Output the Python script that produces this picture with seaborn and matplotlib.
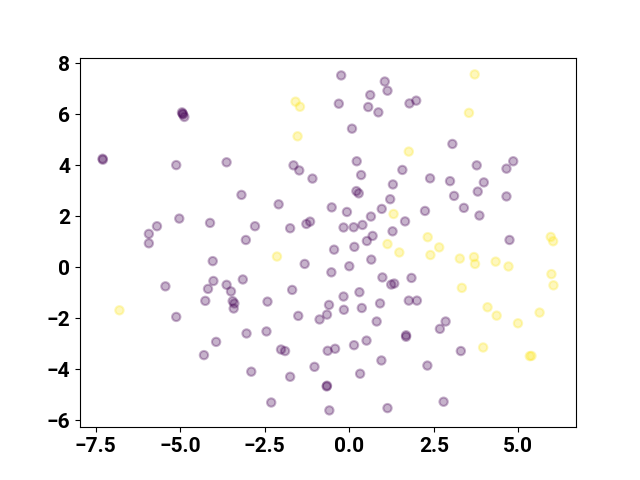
import numpy as np
import pandas as pd
import matplotlib
matplotlib.use("Agg")
import matplotlib.pyplot as plt
from matplotlib.ticker import MultipleLocator
import seaborn as sns

# points of class 0 (purple)
x0 = [-4.95, -4.92, -4.88, -4.93, -7.30, -7.29, -5.12, -3.63, -3.19, -5.03,
      -4.12, -5.69, -5.93, -5.93, -3.06, -0.24, 1.05, 1.13, 0.62, -0.31,
      0.56, 0.86, 1.78, 1.98, 0.08, 0.22, -1.65, -1.48, 1.57, -1.09,
      0.35, 1.29, 0.21, 0.28, 1.21, -2.09, -0.52, 0.96, -0.07, 0.64,
      1.65, -2.79, -1.75, -1.27, -1.16, -0.17, 0.13, 0.39, 1.28, 0.69,
      0.52, 3.05, 3.77, 4.85, 4.65, 2.39, 2.98, 3.98, 3.80, 3.10,
      4.65, 3.39, 2.24, 3.85, 4.74, 1.84, 1.76, 2.00, 2.85, 2.68,
      1.68, 1.68, 3.30, 2.31, 2.79, -0.45, 0.15, -1.32, 0.65, 0.00,
      -0.53, 0.98, 1.24, 1.33, -3.15, -1.69, -2.42, -0.60, -0.17, 0.30,
      0.91, -0.66, -0.16, 0.37, -1.51, -0.88, 0.81, -3.04, -2.45, -2.02,
      -1.90, -0.64, -0.42, 0.14, 0.51, 0.95, -2.90, -1.75, -1.03, 0.32,
      -0.66, -0.67, -2.31, -0.59, 1.13, -4.04, -5.44, -4.02, -4.18, -3.63,
      -3.50, -4.26, -3.45, -3.40, -3.42, -5.12, -3.94, -4.30]
y0 = [6.08, 6.00, 5.90, 6.03, 4.26, 4.22, 4.01, 4.12, 2.84, 1.91,
      1.74, 1.61, 1.31, 0.94, 1.07, 7.53, 7.29, 6.93, 6.76, 6.42,
      6.29, 6.08, 6.43, 6.54, 5.44, 4.16, 4.00, 3.80, 3.82, 3.48,
      3.62, 3.25, 2.99, 2.90, 2.67, 2.47, 2.35, 2.29, 2.17, 1.99,
      1.80, 1.61, 1.53, 1.70, 1.79, 1.56, 1.57, 1.66, 1.41, 1.23,
      1.03, 4.84, 4.00, 4.16, 3.87, 3.49, 3.38, 3.33, 2.97, 2.80,
      2.78, 2.33, 2.21, 2.03, 1.07, -0.42, -1.31, -1.31, -2.13, -2.42,
      -2.67, -2.73, -3.29, -3.86, -5.28, 0.69, 0.80, 0.13, 0.30, 0.04,
      -0.20, -0.40, -0.68, -0.64, -0.48, -0.89, -1.35, -1.48, -1.15, -0.98,
      -1.42, -1.86, -1.67, -1.60, -1.91, -2.05, -2.13, -2.60, -2.52, -3.23,
      -3.29, -3.28, -3.20, -3.06, -2.88, -3.66, -4.10, -4.30, -3.91, -4.18,
      -4.65, -4.68, -5.31, -5.62, -5.53, 0.24, -0.75, -0.54, -0.85, -0.69,
      -0.95, -1.32, -1.33, -1.42, -1.62, -1.95, -2.93, -3.45]

# points of class 1 (yellow)
x1 = [-1.59, -1.46, -1.53, 1.76, 1.31, 1.13, 3.71, 3.54, 2.32, 2.66,
      5.96, 6.03, 1.48, 2.40, 3.27, 3.69, 3.72, 4.33, 4.71, 5.98,
      6.04, 3.33, 4.09, 4.36, 5.63, 4.99, 3.96, 5.34, 5.39, -2.14,
      -6.80]
y1 = [6.50, 6.30, 5.14, 4.54, 2.09, 0.91, 7.57, 6.06, 1.18, 0.78,
      1.19, 1.02, 0.58, 0.48, 0.34, 0.40, 0.13, 0.22, 0.03, -0.27,
      -0.71, -0.81, -1.57, -1.90, -1.78, -2.20, -3.15, -3.49, -3.48, 0.42,
      -1.69]

df = pd.DataFrame({
    "x": x0 + x1,
    "y": y0 + y1,
    "label": [0] * len(x0) + [1] * len(x1),
})

plt.rcParams["font.family"] = ["Roboto", "DejaVu Sans"]
plt.rcParams["font.weight"] = "bold"

fig, ax = plt.subplots(figsize=(6.4, 4.8), dpi=100)
sns.scatterplot(data=df, x="x", y="y", hue="label",
                palette={0: "#440154", 1: "#fde725"},
                alpha=0.3, s=36, edgecolor="face", linewidth=1.5,
                legend=False, ax=ax)
ax.set_xlabel("")
ax.set_ylabel("")
ax.xaxis.set_major_locator(MultipleLocator(2.5))
ax.tick_params(labelsize=15)
for lbl in ax.get_xticklabels() + ax.get_yticklabels():
    lbl.set_fontfamily(["Roboto", "DejaVu Sans"])
    lbl.set_fontweight("bold")

fig.savefig("out.png", dpi=100)
